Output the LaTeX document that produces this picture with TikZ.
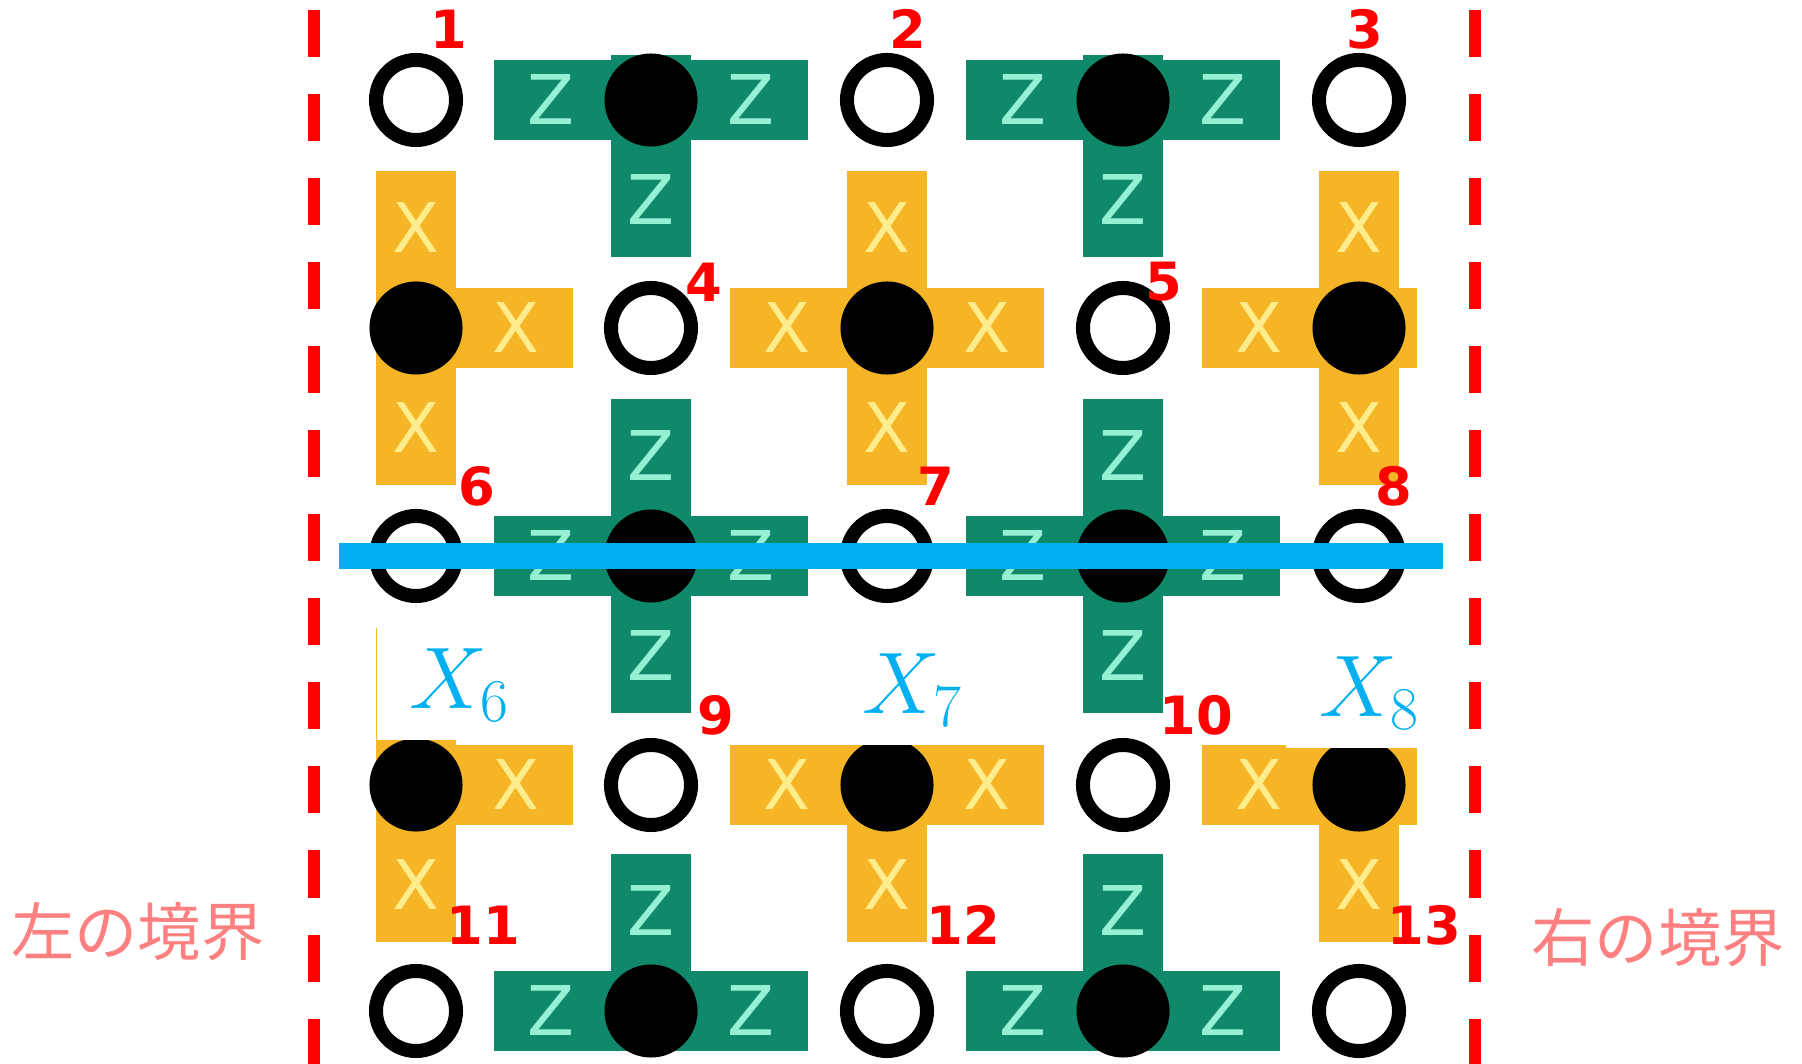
\documentclass[tikz,border=0pt]{standalone}
\usepackage{fontspec}
\usetikzlibrary{positioning}
\newfontfamily\numfont{DejaVu Sans}
\newfontfamily\barfont{DejaVu Sans}
\newfontfamily\jpfont{Noto Sans CJK JP}
\definecolor{zgreen}{RGB}{16,136,106}
\definecolor{zletter}{RGB}{150,240,212}
\definecolor{xyellow}{RGB}{245,181,38}
\definecolor{xletter}{RGB}{255,236,140}
\definecolor{cblue}{RGB}{0,176,240}
\definecolor{cred}{RGB}{255,0,0}
\definecolor{cpink}{RGB}{255,128,128}

% one arm of a stabilizer: prefix, letter, centre x, centre y, dx, dy
\newcommand{\stabarm}[6]{%
  \fill[#1bar] ({#3-40*abs(#6)},{#4-40*abs(#5)}) rectangle ({#3+157*(#5)+40*abs(#6)},{#4+157*(#6)+40*abs(#5)});
  \node[#1let] (arm#1#3#4#5#6) at ({#3+100*(#5)},{#4+100*(#6)}) {#2};
}

\begin{document}
\begin{tikzpicture}[
    x=0.01cm, y=-0.01cm,
    zbar/.style={fill=zgreen},
    xbar/.style={fill=xyellow},
    zlet/.style={text=zletter, inner sep=0pt, font=\barfont\fontsize{19.5}{22}\selectfont},
    xlet/.style={text=xletter, inner sep=0pt, font=\barfont\fontsize{19.5}{22}\selectfont},
    qubit/.style={circle, draw=black, fill=white, line width=0.14cm, minimum size=0.80cm, inner sep=0pt},
    anc/.style={circle, fill=black, minimum size=0.93cm, inner sep=0pt},
    num/.style={text=cred, inner sep=0pt, font=\numfont\bfseries\fontsize{15}{18}\selectfont},
    lbox/.style={fill=white, inner sep=0pt, minimum height=1.36cm},
    logop/.style={text=cblue, inner sep=0pt, font=\fontsize{27}{30}\selectfont},
    cut/.style={draw=cblue, line width=0.25cm},
    bound/.style={draw=cred, line width=0.12cm, dash pattern=on 0.47cm off 0.37cm},
    side/.style={text=cpink, inner sep=0pt, font=\jpfont\fontsize{18}{20}\selectfont}
]
\useasboundingbox (0,0) rectangle (1802,1064);

% Z plaquettes
\foreach \cx in {651,1123}{
  \foreach \dx/\dy in {-1/0,1/0,0/1}{\stabarm{z}{Z}{\cx}{100}{\dx}{\dy}}
  \foreach \dx/\dy in {-1/0,1/0,0/1,0/-1}{\stabarm{z}{Z}{\cx}{556}{\dx}{\dy}}
  \foreach \dx/\dy in {-1/0,1/0,0/-1}{\stabarm{z}{Z}{\cx}{1011}{\dx}{\dy}}
  \fill[zbar] ({\cx-40},55) rectangle ({\cx+40},100);
}
% X stars
\foreach \dx/\dy in {1/0,0/1,0/-1}{\stabarm{x}{X}{416}{328}{\dx}{\dy}}
\foreach \dx/\dy in {-1/0,1/0,0/1,0/-1}{\stabarm{x}{X}{887}{328}{\dx}{\dy}}
\foreach \dx/\dy in {-1/0,0/1,0/-1}{\stabarm{x}{X}{1359}{328}{\dx}{\dy}}
\foreach \dx/\dy in {1/0,0/1}{\stabarm{x}{X}{416}{785}{\dx}{\dy}}
\foreach \dx/\dy in {-1/0,1/0,0/1}{\stabarm{x}{X}{887}{785}{\dx}{\dy}}
\foreach \dx/\dy in {-1/0,0/1}{\stabarm{x}{X}{1359}{785}{\dx}{\dy}}
\foreach \cx in {416,887,1359}
  \fill[xbar] ({\cx-40},628) rectangle ({\cx+40},785); % hidden under the labels
\foreach \cy in {328,785}
  \fill[xbar] (1359,{\cy-40}) rectangle (1417,{\cy+40});

% data qubits
\foreach \n/\x/\y in {1/416/100, 2/887/100, 3/1359/100, 4/651/328, 5/1123/328,
    6/416/556, 7/887/556, 8/1359/556, 9/651/785, 10/1123/785,
    11/416/1011, 12/887/1011, 13/1359/1011}
  \node[qubit] (q\n) at (\x,\y) {};
% ancillas
\foreach \x/\y [count=\i] in {651/100, 1123/100, 416/328, 887/328, 1359/328,
    651/556, 1123/556, 416/785, 887/785, 1359/785, 651/1011, 1123/1011}
  \node[anc] (a\i) at (\x,\y) {};

% logical cut
\coordinate (cutL) at (339,556);
\coordinate (cutR) at (1443,556);
\draw[cut] (cutL) -- (cutR);

\node[lbox, minimum width=1.76cm] (b6) at (465,672) {};
\node[lbox, minimum width=1.77cm] (b7) at (917,677) {};
\node[lbox, minimum width=1.31cm] (b8) at (1352,680) {};
\node[logop] (x6) at (460,685) {$X_6$};
\node[logop] (x7) at (913,690) {$X_7$};
\node[logop] (x8) at (1370,693) {$X_8$};

% qubit numbers
\foreach \n/\x/\y in {1/449/29, 2/908/29, 3/1365/29, 4/704/282, 5/1164/282,
    6/477/486, 7/936/486, 8/1394/486, 9/716/715, 10/1196/715,
    11/483/925, 12/963/925, 13/1424/925}
  \node[num] (n\n) at (\x,\y) {\n};

% boundaries
\coordinate (lbTop) at (314,10);
\coordinate (lbBot) at (314,1064);
\coordinate (rbTop) at (1475,10);
\coordinate (rbBot) at (1475,1064);
\draw[bound] (lbTop) -- (lbBot);
\draw[bound] (rbTop) -- (rbBot);
\node[side] (lside) at (138,932) {左の境界};
\node[side] (rside) at (1658,938) {右の境界};
\end{tikzpicture}
\end{document}
